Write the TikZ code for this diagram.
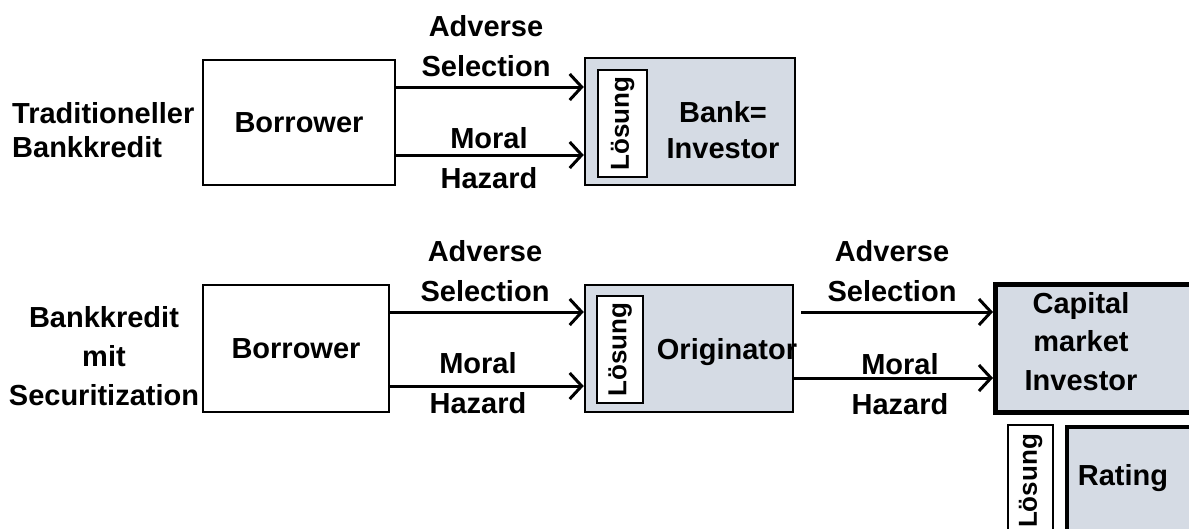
\documentclass[tikz,border=0pt]{standalone}
\usepackage{fontspec}
\setmainfont{Liberation Sans}
\usetikzlibrary{arrows.meta,positioning}
\definecolor{boxGray}{HTML}{D5DBE4}

\begin{document}
\begin{tikzpicture}[x=1pt,y=-1pt,
    font=\fontsize{29}{36}\selectfont\bfseries,
    box/.style={draw,line width=2.5pt,inner sep=0pt},
    shadebox/.style={box,fill=boxGray},
    solbox/.style={box,fill=white,font=\fontsize{26}{30}\selectfont\bfseries},
    arr/.style={line width=3pt,-{Straight Barb[length=12pt,width=26pt]}},
    lbl/.style={align=center,inner sep=0pt,font=\fontsize{29}{40}\selectfont\bfseries}]
  \clip (0,0) rectangle (1189,528);

  % traditioneller Bankkredit
  \node[lbl,align=left,anchor=west,font=\fontsize{29}{34}\selectfont\bfseries] (tradlbl) at (12,130) {Traditioneller\\Bankkredit};
  \node[box,minimum width=192pt,minimum height=125pt] (bor1) at (299,122.5) {Borrower};
  \node[shadebox,minimum width=210pt,minimum height=127pt] (bank) at (690,121.5) {};
  \node[solbox,minimum width=49pt,minimum height=107pt] (sol1) at (622.5,123.5) {\rotatebox{90}{Lösung}};
  \node[lbl,font=\fontsize{29}{36}\selectfont\bfseries] (banktxt) at (723,130) {Bank=\\Investor};

  \coordinate (a1) at ([yshift=35.5pt]bor1.east);
  \coordinate (m1) at ([yshift=-32.5pt]bor1.east);
  \draw[arr] (a1) -- (a1 -| bank.west);
  \draw[arr] (m1) -- (m1 -| bank.west);
  \node[lbl] (as1) at (486,46.5) {Adverse\\Selection};
  \node[lbl] (mh1) at (489,158) {Moral\\Hazard};

  % Bankkredit mit Securitization
  \node[lbl,font=\fontsize{29}{39}\selectfont\bfseries] (seclbl) at (104,356) {Bankkredit\\mit\\Securitization};
  \node[box,minimum width=186pt,minimum height=127pt] (bor2) at (296,348.5) {Borrower};
  \node[shadebox,minimum width=208pt,minimum height=127pt] (orig) at (689,348.5) {};
  \node[solbox,minimum width=46pt,minimum height=107pt] (sol2) at (620,349.5) {\rotatebox{90}{Lösung}};
  \node[lbl] (origtxt) at (727,352) {Originator};
  \node[shadebox,line width=5pt,minimum width=210pt,minimum height=128pt,anchor=west] (cap) at (993,348) {};
  \node[lbl,font=\fontsize{29}{38.5}\selectfont\bfseries] (captxt) at (1081,341.5) {Capital\\market\\Investor};
  \node[solbox,minimum width=45pt,minimum height=112pt] (sol3) at (1030.5,481) {\rotatebox{90}{Lösung}};
  \node[shadebox,line width=4pt,minimum width=140pt,minimum height=115pt,anchor=north west] (rating) at (1065,425) {};
  \node[lbl] (ratingtxt) at (1123,478) {Rating};

  \coordinate (a2) at ([yshift=36.5pt]bor2.east);
  \coordinate (m2) at ([yshift=-37.5pt]bor2.east);
  \draw[arr] (a2) -- (a2 -| orig.west);
  \draw[arr] (m2) -- (m2 -| orig.west);
  \node[lbl] (as2) at (485,271.5) {Adverse\\Selection};
  \node[lbl] (mh2) at (478,383) {Moral\\Hazard};

  \coordinate (a3) at ([xshift=7pt,yshift=36.5pt]orig.east);
  \coordinate (m3) at ([yshift=-29.5pt]orig.east);
  \draw[arr] (a3) -- (a3 -| cap.west);
  \draw[arr] (m3) -- (m3 -| cap.west);
  \node[lbl] (as3) at (892,271.5) {Adverse\\Selection};
  \node[lbl] (mh3) at (900,384) {Moral\\Hazard};
\end{tikzpicture}
\end{document}
